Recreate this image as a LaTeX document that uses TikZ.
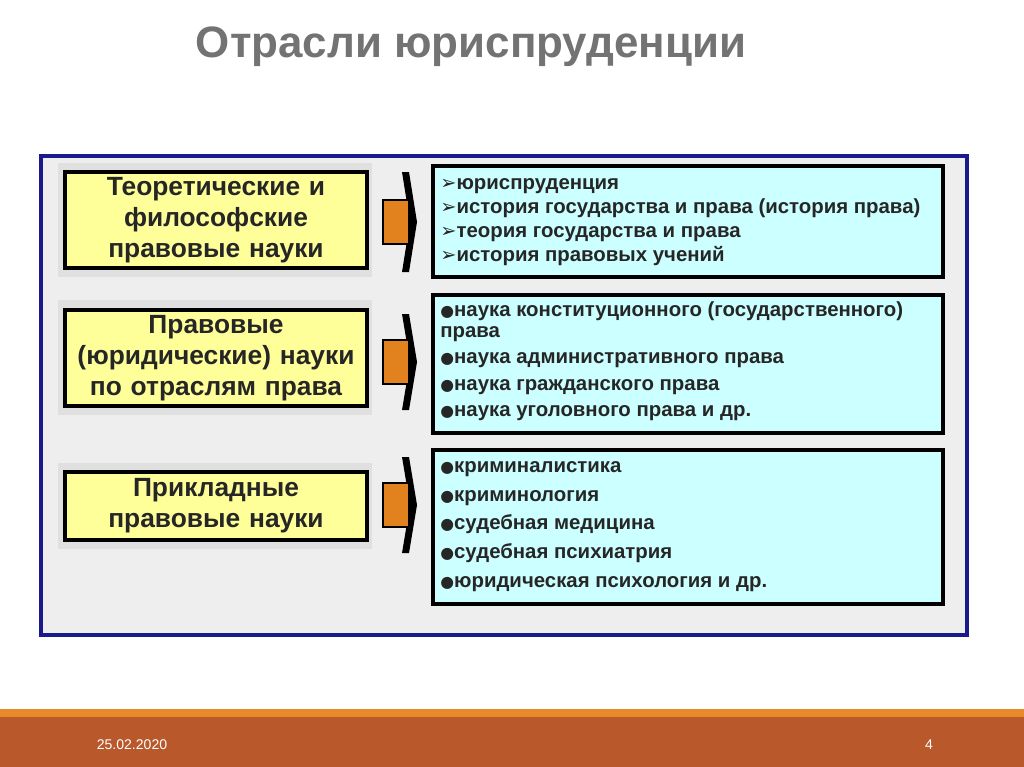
\documentclass[tikz,border=0pt]{standalone}
\usepackage{fontspec}
\setmainfont{Liberation Sans}
\newfontfamily\symfont{DejaVu Sans}
\definecolor{sheet}{HTML}{EEEEEE}
\definecolor{navy}{HTML}{1A1A8C}
\definecolor{paleyellow}{HTML}{FFFF99}
\definecolor{paleblue}{HTML}{CCFFFF}
\definecolor{arroworange}{HTML}{E2821F}
\definecolor{brick}{HTML}{B9582B}
\definecolor{stripe}{HTML}{E8892A}
\newcommand{\tick}{{\symfont\fontsize{11}{13}\selectfont ➢}}
\newcommand{\dotb}{{\symfont\fontsize{9}{13}\selectfont ●}}
\begin{document}
\begin{tikzpicture}[
    x=0.02cm, y=-0.02cm,
    kind/.style={rectangle, draw=black, line width=2.2pt, fill=paleyellow, inner sep=0pt,
                 align=center, font=\bfseries\fontsize{15}{17.5}\selectfont, text=black!85,
                 text width=5.8cm, minimum width=6.04cm},
    list/.style={rectangle, draw=black, line width=2.2pt, fill=paleblue, anchor=north west},
    item/.style={anchor=base west, font=\bfseries\fontsize{11.6}{14}\selectfont\color{black!85}, inner sep=0pt},
    shadow/.style={fill=black!12, draw=none}
]
    % canvas
    \useasboundingbox (0,0) rectangle (1024,767);
    \fill[white] (0,0) rectangle (1024,767);
    % title
    \node[font=\bfseries\fontsize{25}{30}\selectfont, text=black!55] (title) at (471,47) {Отрасли юриспруденции};
    % frame
    \draw[navy, line width=2.5pt, fill=sheet] (41,156) rectangle (967,635);
    % left boxes
    \fill[shadow] (58,163) rectangle (372,277);
    \fill[shadow] (58,300) rectangle (372,415);
    \fill[shadow] (58,463) rectangle (372,549);
    \node[kind, minimum height=96*0.02cm] (theory) at (216,220)
        {Теоретические и\\философские\\правовые науки};
    \node[kind, minimum height=96*0.02cm] (branch) at (216,358)
        {Правовые\\(юридические) науки\\по отраслям права};
    \node[kind, minimum height=68*0.02cm] (applied) at (216,506)
        {Прикладные\\правовые науки};
    % right boxes
    \node[list, minimum width=510*0.02cm, minimum height=111*0.02cm] (listA) at (431,164) {};
    \node[list, minimum width=510*0.02cm, minimum height=138*0.02cm] (listB) at (431,293) {};
    \node[list, minimum width=510*0.02cm, minimum height=154*0.02cm] (listC) at (431,448) {};
    % arrows
    \foreach \name/\yc/\hh in {theory/222/50, branch/362/48, applied/505/48} {
        \fill[black] (402,\yc-\hh) -- (409,\yc-\hh) -- (417,\yc) -- (409,\yc+\hh) -- (402,\yc+\hh) -- (410,\yc) -- cycle;
        \draw[black, line width=1.5pt, fill=arroworange] (383,\yc-22) rectangle (409,\yc+22);
    }
    % list A
    \node[item] (a1) at (440,189) {\tick юриспруденция};
    \node[item] (a2) at (440,213) {\tick история государства и права (история права)};
    \node[item] (a3) at (440,237) {\tick теория государства и права};
    \node[item] (a4) at (440,261) {\tick история правовых учений};
    % list B
    \node[item] (b1) at (440,316) {\dotb наука конституционного (государственного)};
    \node[item] (b2) at (440,337) {права};
    \node[item] (b3) at (440,363) {\dotb наука административного права};
    \node[item] (b4) at (440,390) {\dotb наука гражданского права};
    \node[item] (b5) at (440,416) {\dotb наука уголовного права и др.};
    % list C
    \node[item] (c1) at (440,472) {\dotb криминалистика};
    \node[item] (c2) at (440,501) {\dotb криминология};
    \node[item] (c3) at (440,529) {\dotb судебная медицина};
    \node[item] (c4) at (440,558) {\dotb судебная психиатрия};
    \node[item] (c5) at (440,587) {\dotb юридическая психология и др.};
    % footer
    \fill[stripe] (0,709) rectangle (1024,717);
    \fill[brick] (0,717) rectangle (1024,767);
    \node[text=white, font=\footnotesize] (date) at (132,745) {25.02.2020};
    \node[text=white, font=\footnotesize] (page) at (929,745) {4};
\end{tikzpicture}
\end{document}
